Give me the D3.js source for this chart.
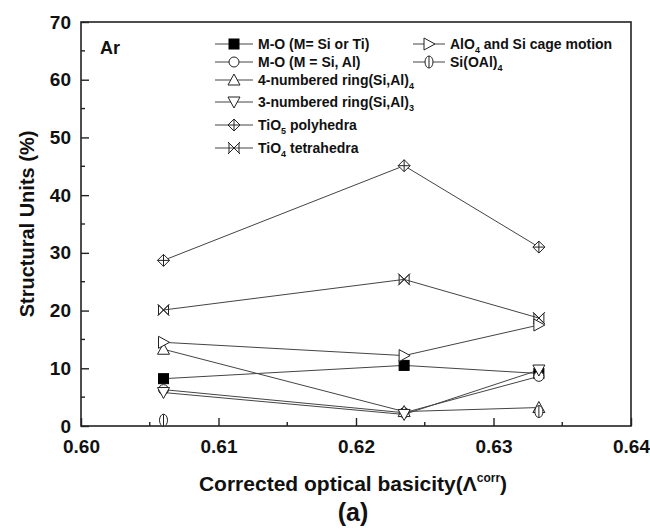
<!DOCTYPE html>
<html>
<head>
<meta charset="utf-8">
<script src="https://cdn.jsdelivr.net/npm/d3@7"></script>
<style>
html,body{margin:0;padding:0;background:#fff;}
svg{display:block;font-family:"Liberation Sans",Arial,sans-serif;}
</style>
</head>
<body>
<svg id="chart" width="650" height="529"></svg>
<script>
// ---- data ----
const basicity = [0.606, 0.6235, 0.6333];
const moSiTi   = [8.2, 10.5, 9.1];
const moSiAl   = [6.3, 2.3, 8.6];
const ring4    = [13.3, 2.5, 3.2];
const ring3    = [5.8, 2.0, 9.7];
const tiO5     = [28.7, 45.1, 31.0];
const tiO4     = [20.1, 25.4, 18.7];
const alO4     = [14.5, 12.2, 17.5];
const siOAl4   = [1.0, null, 2.5];
const xTicks = [0.60, 0.61, 0.62, 0.63, 0.64];
const yTicks = [0, 10, 20, 30, 40, 50, 60, 70];

const series = [
  {name:"M-O (M= Si or Ti)", sub:"", rest:"", values:moSiTi, marker:"square", col:0, row:0},
  {name:"M-O (M = Si, Al)", sub:"", rest:"", values:moSiAl, marker:"circle", col:0, row:1},
  {name:"4-numbered ring(Si,Al)", sub:"4", rest:"", values:ring4, marker:"up", col:0, row:2},
  {name:"3-numbered ring(Si,Al)", sub:"3", rest:"", values:ring3, marker:"down", col:0, row:3},
  {name:"TiO", sub:"5", rest:" polyhedra", values:tiO5, marker:"diamondplus", col:0, row:4},
  {name:"TiO", sub:"4", rest:" tetrahedra", values:tiO4, marker:"bowx", col:0, row:5},
  {name:"AlO", sub:"4", rest:" and Si cage motion", values:alO4, marker:"right", col:1, row:0},
  {name:"Si(OAl)", sub:"4", rest:"", values:siOAl4, marker:"ellbar", col:1, row:1}
];

const svg = d3.select("#chart");
const L = 81, R = 631, T = 22, B = 426;
const x = d3.scaleLinear().domain([0.60, 0.64]).range([L, R]);
const y = d3.scaleLinear().domain([0, 70]).range([B, T]);
const ink = "#222";
const lineCol = "#444";

// frame
svg.append("rect").attr("x", L).attr("y", T).attr("width", R-L).attr("height", B-T)
  .attr("fill","none").attr("stroke", ink).attr("stroke-width", 1.6);

// x axis
const xAxis = d3.axisBottom(x).tickValues(xTicks).tickSize(-8).tickPadding(14).tickFormat(d3.format(".2f"));
const gx = svg.append("g").attr("transform", `translate(0,${B})`).call(xAxis);
gx.select(".domain").remove();
gx.selectAll("line").attr("stroke", ink).attr("stroke-width", 1.4);
gx.selectAll("text").attr("font-size", 19).attr("font-weight", "bold").attr("fill", "#111");
const xMinor = d3.range(0.605, 0.64, 0.01);
svg.append("g").selectAll("line").data(xMinor).join("line")
  .attr("x1", d => x(d)).attr("x2", d => x(d)).attr("y1", B).attr("y2", B-4)
  .attr("stroke", ink).attr("stroke-width", 1.4);

// y axis
const yAxis = d3.axisLeft(y).tickValues(yTicks).tickSize(-8).tickPadding(10).tickFormat(d3.format("d"));
const gy = svg.append("g").attr("transform", `translate(${L},0)`).call(yAxis);
gy.select(".domain").remove();
gy.selectAll("line").attr("stroke", ink).attr("stroke-width", 1.4);
gy.selectAll("text").attr("font-size", 19).attr("font-weight", "bold").attr("fill", "#111");
const yMinor = d3.range(5, 70, 10);
svg.append("g").selectAll("line").data(yMinor).join("line")
  .attr("x1", L).attr("x2", L+4).attr("y1", d => y(d)).attr("y2", d => y(d))
  .attr("stroke", ink).attr("stroke-width", 1.4);

// axis titles
svg.append("text").attr("transform", `translate(34,${(T+B)/2}) rotate(-90)`)
  .attr("text-anchor","middle").attr("font-size", 20).attr("font-weight","bold").attr("fill","#111")
  .text("Structural Units (%)");
const xt = svg.append("text").attr("x", 353).attr("y", 491).attr("text-anchor","middle")
  .attr("font-size", 21).attr("font-weight","bold").attr("fill","#111");
xt.append("tspan").text("Corrected optical basicity(Λ");
xt.append("tspan").attr("font-size", 12).attr("dy", -9).text("corr");
xt.append("tspan").attr("dy", 9).text(")");
svg.append("text").attr("x", 353).attr("y", 521).attr("text-anchor","middle")
  .attr("font-size", 25).attr("font-weight","bold").attr("fill","#111").text("(a)");
svg.append("text").attr("x", 100).attr("y", 54)
  .attr("font-size", 18).attr("font-weight","bold").attr("fill","#111").text("Ar");

// marker drawing
function drawMarker(g, type, cx, cy) {
  const s = 5;
  const m = g.append("g").attr("transform", `translate(${cx},${cy})`)
    .attr("stroke", ink).attr("stroke-width", 1).attr("fill", "#fff");
  switch (type) {
    case "square":
      m.append("rect").attr("x",-s).attr("y",-s).attr("width",2*s).attr("height",2*s).attr("fill","#000").attr("stroke","#000");
      break;
    case "circle":
      m.append("circle").attr("r", s);
      break;
    case "up":
      m.append("path").attr("d", `M0,${-s-1}L${s+1},${s}L${-s-1},${s}Z`);
      break;
    case "down":
      m.append("path").attr("d", `M0,${s+1}L${s+1},${-s}L${-s-1},${-s}Z`);
      break;
    case "right":
      m.append("path").attr("d", `M${s+1},0L${-s},${-s-1}L${-s},${s+1}Z`);
      break;
    case "diamondplus":
      m.append("path").attr("d", `M0,${-s-1}L${s+1},0L0,${s+1}L${-s-1},0Z`);
      m.append("path").attr("d", `M0,${-s-1}V${s+1}M${-s-1},0H${s+1}`);
      break;
    case "bowx":
      m.append("path").attr("fill","none").attr("d", `M${-s},${-s}L${s},${s}L${s},${-s}L${-s},${s}Z`);
      m.append("path").attr("d", `M${-s-1},${-s-1}L${s+1},${s+1}M${s+1},${-s-1}L${-s-1},${s+1}`);
      break;
    case "ellbar":
      m.append("ellipse").attr("rx", s-1).attr("ry", s+1);
      m.append("path").attr("d", `M0,${-s-1}V${s+1}`);
      break;
  }
}

// lines
const pts = s => basicity.map((b,i) => ({x:b, v:s.values[i]}));
const line = d3.line().defined(d => d.v != null).x(d => x(d.x)).y(d => y(d.v));
const plot = svg.append("g");
series.forEach(s => {
  plot.append("path").datum(pts(s)).attr("d", line)
    .attr("fill","none").attr("stroke", lineCol).attr("stroke-width", 1);
});
series.forEach(s => {
  pts(s).filter(d => d.v != null).forEach(d => drawMarker(plot, s.marker, x(d.x), y(d.v)));
});

// legend
const rowY = [44, 62, 80, 102, 125, 148];
const colX = [215, 413];
const leg = svg.append("g");
series.forEach(s => {
  const lx = colX[s.col], ly = rowY[s.row];
  const w = s.col === 0 ? 38 : 32;
  leg.append("line").attr("x1", lx).attr("x2", lx + w).attr("y1", ly).attr("y2", ly)
    .attr("stroke", lineCol).attr("stroke-width", 1);
  drawMarker(leg, s.marker, lx + w/2, ly);
  const t = leg.append("text").attr("x", lx + w + 5).attr("y", ly + 5)
    .attr("font-size", 14).attr("font-weight","bold").attr("fill","#111");
  t.append("tspan").text(s.name);
  if (s.sub) {
    t.append("tspan").attr("font-size", 9).attr("dy", 4).text(s.sub);
    if (s.rest) t.append("tspan").attr("dy", -4).text(s.rest);
  }
});
</script>
</body>
</html>
